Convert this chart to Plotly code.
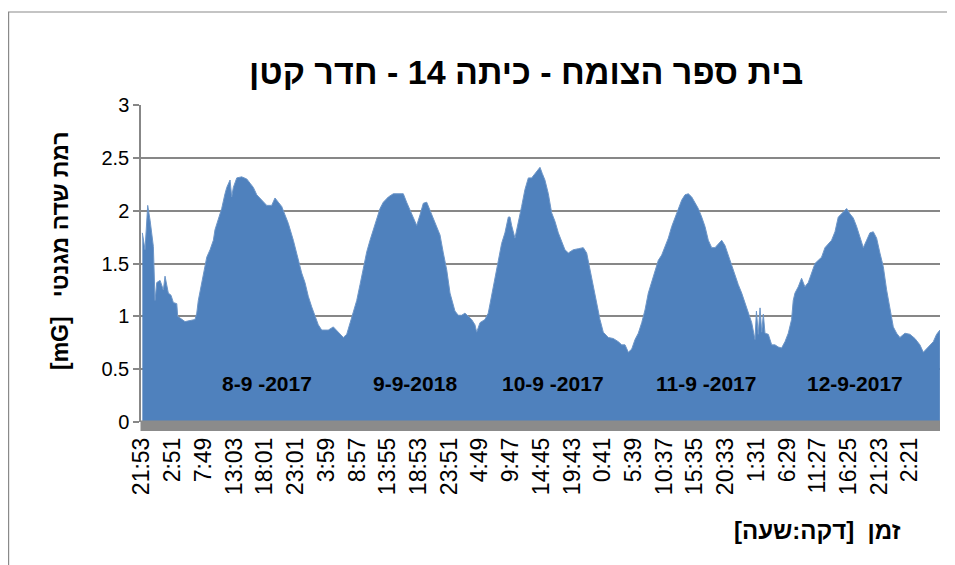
import plotly.graph_objects as go

# ---- data (minutes since first sample 21:53, field in mG) ----
minutes = [
    3, 29, 55, 78, 110, 126, 143, 175, 207, 223, 255, 281, 304, 337, 346, 417, 514, 531, 546,
    579, 611, 628, 660, 692, 708, 740, 773, 805, 822, 854, 870, 886, 919, 967, 1016, 1048,
    1080, 1113, 1161, 1210, 1258, 1290, 1322, 1355, 1387, 1419, 1468,
    1484, 1516, 1549, 1581, 1613, 1646, 1678, 1710, 1743, 1807, 1856, 1904, 1953, 1986, 2018,
    2050, 2083, 2115, 2147, 2180, 2212, 2244, 2277, 2309, 2341, 2390, 2438, 2486, 2535, 2567,
    2600, 2632, 2665, 2697, 2729, 2762, 2794, 2826, 2859, 2891, 2923, 2956, 2988, 3020,
    3036, 3068, 3101, 3133, 3166, 3198, 3230, 3247, 3279, 3327, 3359, 3392, 3424, 3456, 3489,
    3521, 3554, 3570, 3586, 3618, 3651, 3683, 3715, 3748, 3780, 3812, 3845, 3861, 3884, 3909,
    3942, 3974, 4006, 4039, 4071, 4103, 4136, 4184, 4233, 4281, 4314, 4346, 4378, 4411, 4443,
    4475, 4524, 4572, 4621,
    4654, 4686, 4718, 4751, 4783, 4815, 4848, 4880, 4912, 4945, 4977, 5009, 5042, 5074, 5106,
    5139, 5171, 5203, 5236, 5268, 5300, 5333, 5365, 5397, 5430, 5462, 5494, 5527, 5559, 5591,
    5624, 5656, 5688, 5721, 5753, 5785, 5818, 5850, 5882, 5915, 5947, 5961, 5979, 5996, 6012,
    6028, 6044, 6076, 6109, 6141, 6173,
    6205, 6238, 6270, 6302, 6318, 6335, 6367, 6399, 6431, 6464, 6496, 6529, 6561, 6593, 6626,
    6658, 6690, 6723, 6755, 6787, 6820, 6836, 6868, 6901, 6933, 6965, 6998, 7030, 7062, 7095,
    7127, 7159, 7192, 7224, 7256, 7289, 7321, 7353, 7402, 7450, 7499, 7547, 7580, 7628, 7677,
    7709, 7741,
]
field_mg = [
    1.79, 1.63, 2.05, 1.91, 1.66, 1.15, 1.32, 1.34, 1.25, 1.38, 1.22, 1.20, 1.13, 1.12, 1.00,
    0.95, 0.97, 1.03, 1.15, 1.32, 1.47, 1.56, 1.63, 1.72, 1.82, 1.91, 2.02, 2.16, 2.22, 2.29,
    2.13, 2.22, 2.31, 2.32, 2.30, 2.26, 2.22, 2.15, 2.10, 2.05, 2.05, 2.12, 2.08, 2.04, 1.96,
    1.88, 1.72,
    1.66, 1.56, 1.41, 1.32, 1.19, 1.09, 1.00, 0.92, 0.87, 0.87, 0.90, 0.85, 0.80, 0.83, 0.94,
    1.04, 1.15, 1.30, 1.47, 1.61, 1.72, 1.82, 1.91, 2.02, 2.08, 2.13, 2.16, 2.16, 2.16, 2.08,
    2.00, 1.93, 1.86, 1.96, 2.07, 2.08, 2.00, 1.93, 1.85, 1.77, 1.60, 1.44, 1.22, 1.12,
    1.05, 1.01, 1.01, 1.03, 1.00, 0.97, 0.92, 0.85, 0.94, 0.97, 1.03, 1.19, 1.37, 1.53, 1.69,
    1.79, 1.94, 1.94, 1.86, 1.74, 1.88, 2.04, 2.20, 2.31, 2.31, 2.35, 2.40, 2.41, 2.35, 2.29,
    2.16, 1.98, 1.90, 1.79, 1.71, 1.63, 1.60, 1.63, 1.64, 1.65, 1.60, 1.44, 1.28, 1.14, 0.97,
    0.85, 0.80, 0.79, 0.76,
    0.73, 0.73, 0.66, 0.69, 0.78, 0.84, 0.94, 1.06, 1.22, 1.32, 1.44, 1.53, 1.58, 1.66, 1.74,
    1.85, 1.93, 2.00, 2.10, 2.15, 2.16, 2.13, 2.08, 2.02, 1.94, 1.85, 1.72, 1.65, 1.65, 1.69,
    1.72, 1.67, 1.58, 1.47, 1.39, 1.30, 1.22, 1.12, 1.03, 0.94, 0.78, 1.05, 0.83, 1.08, 0.85,
    1.02, 0.84, 0.83, 0.73, 0.73, 0.71,
    0.70, 0.76, 0.84, 0.97, 1.15, 1.22, 1.28, 1.36, 1.28, 1.32, 1.41, 1.50, 1.53, 1.56, 1.65,
    1.69, 1.72, 1.80, 1.94, 1.97, 2.00, 2.02, 1.97, 1.93, 1.85, 1.74, 1.65, 1.72, 1.79, 1.80,
    1.74, 1.60, 1.47, 1.25, 1.06, 0.90, 0.84, 0.80, 0.84, 0.83, 0.79, 0.73, 0.66, 0.71, 0.76,
    0.83, 0.87,
]
tick_labels = ["21:53", "2:51", "7:49", "13:03", "18:01", "23:01", "3:59", "8:57", "13:55",
               "18:53", "23:51", "4:49", "9:47", "14:45", "19:43", "0:41", "5:39", "10:37",
               "15:35", "20:33", "1:31", "6:29", "11:27", "16:25", "21:23", "2:21"]
tick_step_minutes = 298
y_tick_values = [0, 0.5, 1, 1.5, 2, 2.5, 3]
y_tick_labels = ["0", "0.5", "1", "1.5", "2", "2.5", "3"]
date_labels = ["8-9 -2017", "9-9-2018", "10-9 -2017", "11-9 -2017", "12-9-2017"]
date_label_minutes = [1213, 2653, 3987, 5468, 6917]
date_label_level = 0.36

title_text = "בית ספר הצומח - כיתה 14 - חדר קטן"
y_title = "[mG]\u00a0\u00a0\u00a0רמת שדה מגנטי"
x_title = "\u200fזמן\u00a0\u00a0[דקה:שעה]\u200f"

FONT = "Liberation Sans, Arial, sans-serif"
BLUE = "#4F81BD"
GRID = "#878787"

# the page body adds an 8px offset; plot area targets page px 141..940 x 105..422
fig = go.Figure()
fig.add_trace(go.Scatter(
    x=minutes, y=field_mg, mode="lines", fill="tozeroy",
    fillcolor=BLUE, line=dict(color="#6d96c8", width=1), hoverinfo="x+y",
))

tickvals = [i * tick_step_minutes for i in range(len(tick_labels))]

fig.update_layout(
    width=947, height=557, autosize=False,
    margin=dict(l=133, r=15, t=97, b=143),
    paper_bgcolor="white", plot_bgcolor="white",
    showlegend=False,
    font=dict(family=FONT, color="black"),
    xaxis=dict(
        range=[-10, 7742], tickmode="array", tickvals=tickvals, ticktext=tick_labels,
        tickangle=-90, tickfont=dict(size=23, family=FONT, color="black"),
        showgrid=False, zeroline=False, showline=False, ticks="",
        ticklabelstandoff=10,
    ),
    yaxis=dict(
        range=[0, 3], tickmode="array", tickvals=y_tick_values, ticktext=y_tick_labels,
        tickfont=dict(size=20, family=FONT, color="black"),
        showgrid=True, gridcolor=GRID, gridwidth=1.5, zeroline=False,
        showline=True, linecolor=GRID, linewidth=1.5,
        ticks="outside", ticklen=6, tickcolor=GRID, tickwidth=1.5,
    ),
)

def px_x(p):
    return (p - 141) / 799.0

def px_y(p):
    return (422 - p) / 317.0

# chart outer border
fig.add_shape(type="rect", xref="paper", yref="paper",
              x0=px_x(8.6), x1=px_x(962), y0=px_y(572), y1=px_y(12),
              line=dict(color="#8a8a8a", width=1.2), fillcolor="rgba(0,0,0,0)", layer="below")
# thick gray floor band under the data
fig.add_shape(type="rect", xref="paper", yref="paper",
              x0=px_x(140.5), x1=px_x(940), y0=px_y(431), y1=px_y(420.5),
              line=dict(width=0), fillcolor="#8b8b8b", layer="above")

fig.add_annotation(text="<b>" + title_text + "</b>", xref="paper", yref="paper",
                   x=px_x(526), y=px_y(72), showarrow=False,
                   font=dict(size=34, family=FONT, color="black"), xanchor="center", yanchor="middle")
fig.add_annotation(text="<b>" + y_title + "</b>", xref="paper", yref="paper",
                   x=px_x(60), y=px_y(251), showarrow=False, textangle=-90,
                   font=dict(size=23, family=FONT, color="black"), xanchor="center", yanchor="middle")
fig.add_annotation(text="<b>" + x_title + "</b>", xref="paper", yref="paper",
                   x=px_x(817), y=px_y(530), showarrow=False,
                   font=dict(size=24, family=FONT, color="black"), xanchor="center", yanchor="middle")

for lbl, m in zip(date_labels, date_label_minutes):
    fig.add_annotation(text="<b>" + lbl + "</b>", x=m, y=date_label_level, xref="x", yref="y",
                       showarrow=False, font=dict(size=21, family=FONT, color="black"),
                       xanchor="center", yanchor="middle")

fig.write_html("out.html")
